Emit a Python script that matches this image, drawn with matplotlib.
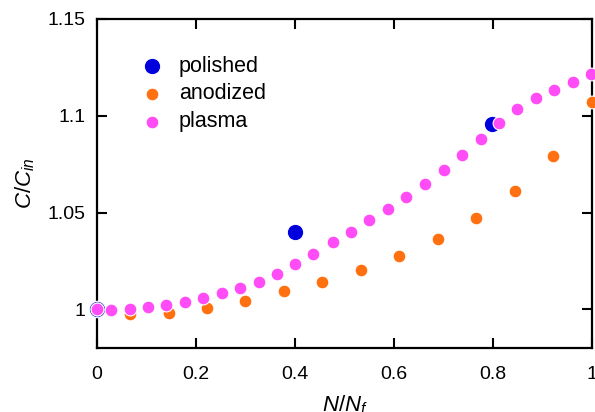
import matplotlib
matplotlib.use("Agg")
import matplotlib.pyplot as plt

plt.rcParams['font.family'] = ['Liberation Sans', 'DejaVu Sans']
plt.rcParams['mathtext.fontset'] = 'custom'
plt.rcParams['mathtext.it'] = 'Liberation Sans:italic'
plt.rcParams['mathtext.rm'] = 'Liberation Sans'

polished_x = [0.0, 0.399, 0.798]
polished_y = [1.0, 1.0399, 1.0957]

anodized_x = [0.0, 0.067, 0.146, 0.223, 0.300, 0.378, 0.455, 0.533, 0.611, 0.688, 0.766, 0.844, 0.921, 0.999]
anodized_y = [1.0, 0.9974, 0.9983, 1.0007, 1.0043, 1.0093, 1.0143, 1.0203, 1.0275, 1.0362, 1.047, 1.061, 1.0793, 1.1071]

plasma_x = [0.0, 0.029, 0.066, 0.103, 0.140, 0.177, 0.215, 0.252, 0.289, 0.327, 0.364, 0.401, 0.437, 0.476,
            0.513, 0.550, 0.588, 0.625, 0.663, 0.700, 0.737, 0.775, 0.812, 0.849, 0.887, 0.924, 0.961, 0.998]
plasma_y = [1.0, 0.9996, 1.0, 1.001, 1.0021, 1.0038, 1.0057, 1.0083, 1.0108, 1.0141, 1.0181, 1.0232, 1.0286, 1.0346,
            1.0401, 1.046, 1.0517, 1.0582, 1.0646, 1.0718, 1.0799, 1.0881, 1.0961, 1.1033, 1.1091, 1.1134, 1.1174, 1.1215]

xticks = [0, 0.2, 0.4, 0.6, 0.8, 1]
xticklabels = ['0', '0.2', '0.4', '0.6', '0.8', '1']
yticks = [1.0, 1.05, 1.1, 1.15]
yticklabels = ['1', '1.05', '1.1', '1.15']

fig = plt.figure(figsize=(5.95, 4.12), dpi=100)
ax = fig.add_axes([0.163, 0.155, 0.832, 0.799])

ax.scatter(polished_x, polished_y, s=140, color='#0000dd', edgecolors='white', linewidths=0.8,
           label='polished', zorder=3, clip_on=False)
ax.scatter(anodized_x, anodized_y, s=85, color='#ff7010', edgecolors='white', linewidths=0.8,
           label='anodized', zorder=4, clip_on=False)
ax.scatter(plasma_x, plasma_y, s=85, color='#ff4cf6', edgecolors='white', linewidths=0.8,
           label='plasma', zorder=5, clip_on=False)

ax.set_xlim(0, 1)
ax.set_ylim(0.98, 1.15)
ax.set_xticks(xticks)
ax.set_xticklabels(xticklabels)
ax.set_yticks(yticks)
ax.set_yticklabels(yticklabels)
ax.tick_params(direction='in', length=7, width=1.5, top=True, right=True, labelsize=14)
ax.tick_params(axis='x', pad=13)
ax.tick_params(axis='y', pad=8)
for sp in ax.spines.values():
    sp.set_linewidth(1.6)

ax.set_xlabel(r'$N/N_f$', fontsize=16, labelpad=7)
ax.set_ylabel(r'$C/C_{in}$', fontsize=16, labelpad=8)

leg = ax.legend(loc='upper left', bbox_to_anchor=(0.05, 0.915), frameon=False, fontsize=15.5,
                handletextpad=0.25, labelspacing=0.32, scatterpoints=1, borderaxespad=0)

fig.savefig('out.png', dpi=100)
